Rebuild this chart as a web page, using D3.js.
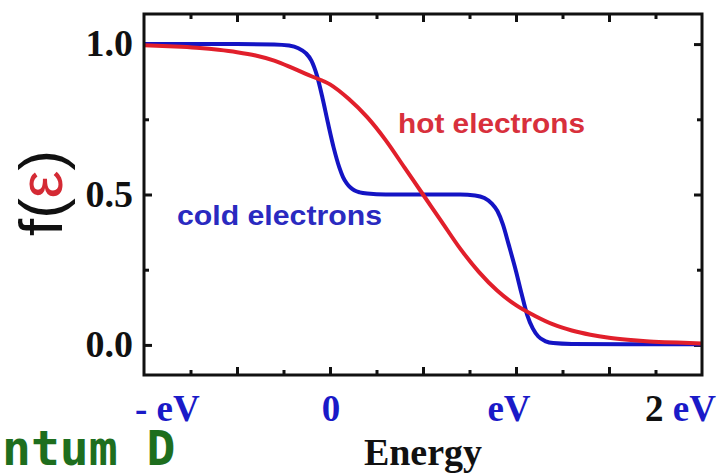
<!DOCTYPE html>
<html>
<head>
<meta charset="utf-8">
<script src="https://cdn.jsdelivr.net/npm/d3@7"></script>
<style>
  body { margin: 0; background: #fff; }
  svg { display: block; }
</style>
</head>
<body>
<svg id="chart" width="725" height="475"></svg>
<script>
// energies in units of eV, occupation f(e)
const coldEnergy = [-1.0, -0.5, -0.3, -0.22, -0.17, -0.13, -0.1, -0.07, -0.04, -0.01, 0.02, 0.05, 0.07, 0.09, 0.11,
                    0.13, 0.16, 0.2, 0.3, 0.7, 0.78, 0.83, 0.87, 0.9, 0.93, 0.96, 1.0, 1.03, 1.06, 1.09, 1.12,
                    1.16, 1.2, 1.3, 1.6, 2.0];
const coldValue  = [1.0, 1.0, 0.999, 0.995, 0.986, 0.97, 0.945, 0.895, 0.82, 0.735, 0.655, 0.59, 0.558, 0.537, 0.523,
                    0.514, 0.507, 0.503, 0.5, 0.5, 0.497, 0.488, 0.47, 0.445, 0.4, 0.335, 0.245, 0.17, 0.1, 0.055, 0.028,
                    0.012, 0.006, 0.003, 0.002, 0.002];

const hotEnergy = [-1.0, -0.9, -0.8, -0.7, -0.6, -0.5, -0.4, -0.3, -0.2, -0.1, 0.0, 0.1, 0.2, 0.3, 0.4, 0.5,
                   0.6, 0.7, 0.8, 0.9, 1.0, 1.1, 1.2, 1.3, 1.4, 1.5, 1.6, 1.7, 1.8, 1.9, 2.0];
const hotValue  = [0.996, 0.994, 0.991, 0.987, 0.981, 0.973, 0.962, 0.945, 0.92, 0.893, 0.866, 0.818, 0.757, 0.68, 0.59, 0.5,
                   0.41, 0.32, 0.243, 0.18, 0.132, 0.097, 0.068, 0.048, 0.034, 0.024, 0.017, 0.012, 0.009, 0.007, 0.005];

const xMajorTicks = [-0.5, 0, 0.5, 1, 1.5];
const xMinorTicks = [-0.75, -0.25, 0.25, 0.75, 1.25, 1.75];
const yMajorTicks = [0, 0.5, 1];
const yMinorTicks = [0.25, 0.75];

const xLabels = [
  {v: -1, parts: [["- eV", "#1a1ac8"]], anchor: "start", dx: -9},
  {v: 0, parts: [["0", "#1a1ac8"]], anchor: "middle", dx: 1},
  {v: 1, parts: [["eV", "#1a1ac8"]], anchor: "middle", dx: -7},
  {v: 2, parts: [["2 ", "#111"], ["eV", "#1a1ac8"]], anchor: "end", dx: 14}
];
const yLabels = [[1, "1.0"], [0.5, "0.5"], [0, "0.0"]];

const svg = d3.select("#chart");
const pLeft = 144, pRight = 702, pTop = 14, pBottom = 375;

const x = d3.scaleLinear().domain([-1, 2]).range([pLeft, pRight]);
const y = d3.scaleLinear().domain([-0.1, 1.1]).range([pBottom, pTop]);

const serif = "'Liberation Serif', 'Times New Roman', serif";
const sans = "'Liberation Sans', Arial, sans-serif";

// inward ticks on all four sides
function tickAxis(gen, vals, size, tf) {
  svg.append("g")
    .attr("transform", tf)
    .call(gen.tickValues(vals).tickSize(-size).tickFormat(""))
    .call(g => g.select(".domain").remove())
    .selectAll("line").attr("stroke", "#111").attr("stroke-width", 3);
}
tickAxis(d3.axisBottom(x), xMajorTicks, 8, `translate(0,${pBottom})`);
tickAxis(d3.axisBottom(x), xMinorTicks, 5, `translate(0,${pBottom})`);
tickAxis(d3.axisTop(x), xMajorTicks, 8, `translate(0,${pTop})`);
tickAxis(d3.axisTop(x), xMinorTicks, 5, `translate(0,${pTop})`);
tickAxis(d3.axisLeft(y), yMajorTicks, 8, `translate(${pLeft},0)`);
tickAxis(d3.axisLeft(y), yMinorTicks, 5, `translate(${pLeft},0)`);
tickAxis(d3.axisRight(y), yMajorTicks, 8, `translate(${pRight},0)`);
tickAxis(d3.axisRight(y), yMinorTicks, 5, `translate(${pRight},0)`);

const line = d3.line()
  .x(d => x(d[0]))
  .y(d => y(d[1]))
  .curve(d3.curveMonotoneX);

svg.append("path")
  .datum(d3.zip(coldEnergy, coldValue))
  .attr("d", line)
  .attr("fill", "none")
  .attr("stroke", "#1414c4")
  .attr("stroke-width", 4);

svg.append("path")
  .datum(d3.zip(hotEnergy, hotValue))
  .attr("d", line)
  .attr("fill", "none")
  .attr("stroke", "#e11f2b")
  .attr("stroke-width", 4);

// frame
svg.append("rect")
  .attr("x", pLeft).attr("y", pTop)
  .attr("width", pRight - pLeft).attr("height", pBottom - pTop)
  .attr("fill", "none")
  .attr("stroke", "#111")
  .attr("stroke-width", 3);

// tick labels
svg.selectAll("text.ylab")
  .data(yLabels)
  .enter().append("text")
  .attr("class", "ylab")
  .attr("x", pLeft - 11)
  .attr("y", d => y(d[0]) + 12)
  .attr("text-anchor", "end")
  .attr("font-family", serif)
  .attr("font-weight", "bold")
  .attr("font-size", 38)
  .attr("fill", "#111")
  .text(d => d[1]);

const xl = svg.selectAll("text.xlab")
  .data(xLabels)
  .enter().append("text")
  .attr("class", "xlab")
  .attr("x", d => x(d.v) + d.dx)
  .attr("y", 421)
  .attr("text-anchor", d => d.anchor)
  .attr("font-family", serif)
  .attr("font-weight", "bold")
  .attr("font-size", 37)
  .style("white-space", "pre");
xl.selectAll("tspan")
  .data(d => d.parts)
  .enter().append("tspan")
  .attr("fill", d => d[1])
  .text(d => d[0]);

svg.append("text")
  .attr("x", (pLeft + pRight) / 2)
  .attr("y", 465)
  .attr("text-anchor", "middle")
  .attr("font-family", serif)
  .attr("font-weight", "bold")
  .attr("font-size", 38)
  .attr("fill", "#111")
  .text("Energy");

// y title f(ε)
const yt = svg.append("text")
  .attr("transform", `translate(62,193) rotate(-90)`)
  .attr("text-anchor", "middle")
  .attr("font-family", sans)
  .attr("font-size", 62)
  .attr("fill", "#111");
yt.append("tspan").text("f(");
yt.append("tspan").attr("fill", "#d42a34").text("ε");
yt.append("tspan").text(")");

// curve annotations
svg.append("text")
  .attr("x", 398).attr("y", 133)
  .attr("font-family", sans).attr("font-weight", "bold").attr("font-size", 27)
  .attr("textLength", 187).attr("lengthAdjust", "spacingAndGlyphs")
  .attr("fill", "#d8303c")
  .text("hot electrons");

svg.append("text")
  .attr("x", 177).attr("y", 225)
  .attr("font-family", sans).attr("font-weight", "bold").attr("font-size", 27)
  .attr("textLength", 205).attr("lengthAdjust", "spacingAndGlyphs")
  .attr("fill", "#2a2ac0")
  .text("cold electrons");

// caption fragment at the bottom left
svg.append("text")
  .attr("x", 2).attr("y", 465)
  .attr("font-family", "'DejaVu Sans Mono', monospace")
  .attr("font-weight", "bold")
  .attr("font-size", 48)
  .attr("fill", "#1e6e1e")
  .text("ntum D");
</script>
</body>
</html>
